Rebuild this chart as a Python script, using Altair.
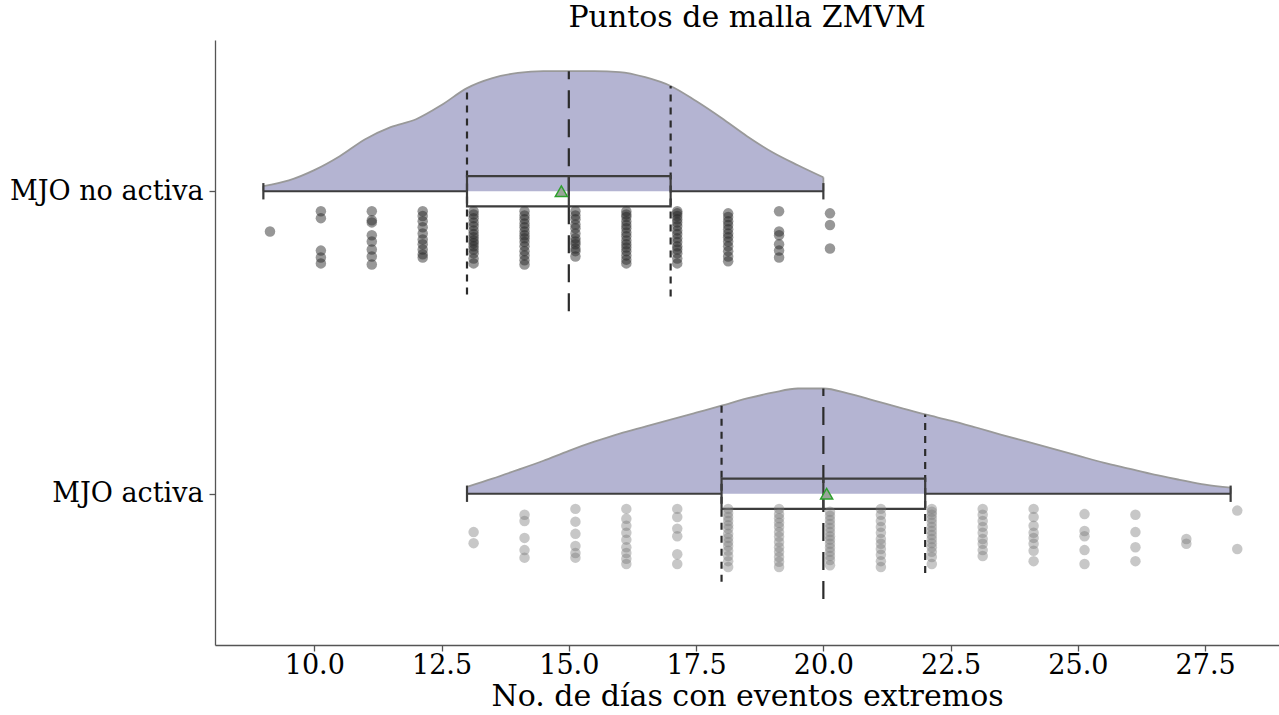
import altair as alt
import numpy as np
import pandas as pd

TITLE = "Puntos de malla ZMVM"
X_TITLE = "No. de días con eventos extremos"
GROUPS = ["MJO no activa", "MJO activa"]
GROUP_POS = {"MJO no activa": 1.0, "MJO activa": 0.0}
X_TICKS = [10.0, 12.5, 15.0, 17.5, 20.0, 22.5, 25.0, 27.5]

# Observed day counts: one list per distinct value, each entry is the
# vertical jitter (0-1 within the strip) of one observation.
no_activa_values = [9, 10, 11, 12, 13, 14, 15, 16, 17, 18, 19, 20]
no_activa_jitter = [
    [0.38],
    [0.0, 0.13, 0.74, 0.87, 0.98],
    [0.0, 0.17, 0.21, 0.45, 0.57, 0.72, 0.85, 1.0],
    [0.0, 0.09, 0.19, 0.30, 0.42, 0.53, 0.62, 0.72, 0.81, 0.87],
    [0.0, 0.06, 0.13, 0.21, 0.28, 0.36, 0.43, 0.49, 0.55, 0.60, 0.66, 0.72, 0.79, 0.89, 0.98],
    [0.0, 0.08, 0.15, 0.23, 0.30, 0.38, 0.45, 0.51, 0.58, 0.66, 0.75, 0.83, 0.92, 1.0],
    [0.0, 0.08, 0.15, 0.25, 0.32, 0.42, 0.51, 0.57, 0.62, 0.70, 0.75, 0.85],
    [0.0, 0.06, 0.11, 0.19, 0.26, 0.32, 0.40, 0.47, 0.55, 0.62, 0.68, 0.75, 0.83, 0.91, 0.98],
    [0.0, 0.04, 0.09, 0.15, 0.21, 0.28, 0.36, 0.43, 0.51, 0.58, 0.66, 0.72, 0.79, 0.89, 0.98],
    [0.04, 0.11, 0.19, 0.26, 0.34, 0.42, 0.49, 0.57, 0.66, 0.75, 0.85, 0.94],
    [0.0, 0.38, 0.45, 0.62, 0.74, 0.87],
    [0.04, 0.26, 0.70],
]

activa_values = [13, 14, 15, 16, 17, 18, 19, 20, 21, 22, 23, 24, 25, 26, 27, 28]
activa_jitter = [
    [0.40, 0.59],
    [0.10, 0.21, 0.50, 0.71, 0.84],
    [0.0, 0.22, 0.43, 0.64, 0.76, 0.84],
    [0.0, 0.17, 0.29, 0.41, 0.53, 0.66, 0.76, 0.86, 0.95],
    [0.0, 0.14, 0.34, 0.47, 0.78, 0.95],
    [0.0, 0.07, 0.14, 0.21, 0.28, 0.34, 0.43, 0.50, 0.57, 0.64, 0.72, 0.81, 0.90, 1.0],
    [0.0, 0.09, 0.16, 0.24, 0.31, 0.40, 0.48, 0.57, 0.66, 0.74, 0.83, 0.91, 1.0],
    [0.05, 0.12, 0.19, 0.26, 0.33, 0.40, 0.47, 0.53, 0.60, 0.67, 0.74, 0.81, 0.88, 0.97],
    [0.0, 0.10, 0.21, 0.31, 0.41, 0.52, 0.60, 0.69, 0.79, 0.90, 1.0],
    [0.0, 0.05, 0.10, 0.17, 0.24, 0.31, 0.38, 0.45, 0.52, 0.59, 0.66, 0.74, 0.83, 0.95],
    [0.0, 0.10, 0.21, 0.31, 0.41, 0.52, 0.60, 0.71, 0.81],
    [0.0, 0.14, 0.29, 0.41, 0.50, 0.60, 0.72, 0.90],
    [0.09, 0.38, 0.47, 0.71, 0.95],
    [0.10, 0.40, 0.66, 0.90],
    [0.52, 0.60],
    [0.03, 0.69],
]

# Half-violin outlines (kernel density, scaled to category units)
no_activa_grid = [9, 9.5, 10, 10.5, 11, 11.5, 12, 12.5, 13, 13.5, 14, 14.5,
                  15, 15.5, 16, 16.5, 17, 17.5, 18, 18.5, 19, 19.5, 20]
no_activa_density = [0.017, 0.036, 0.070, 0.116, 0.172, 0.212, 0.238, 0.285,
                     0.341, 0.374, 0.391, 0.397, 0.397, 0.397, 0.394, 0.377,
                     0.348, 0.298, 0.242, 0.182, 0.129, 0.086, 0.046]
activa_grid = [13, 13.5, 14, 14.5, 15, 15.5, 16, 16.5, 17, 17.5, 18, 18.5, 19,
               19.5, 20, 20.5, 21, 21.5, 22, 22.5, 23, 23.5, 24, 24.5, 25,
               25.5, 26, 26.5, 27, 27.5, 28]
activa_density = [0.023, 0.050, 0.079, 0.109, 0.142, 0.172, 0.199, 0.222,
                  0.245, 0.268, 0.291, 0.315, 0.334, 0.348, 0.348, 0.331,
                  0.308, 0.285, 0.262, 0.242, 0.219, 0.195, 0.172, 0.149,
                  0.126, 0.103, 0.083, 0.063, 0.046, 0.030, 0.020]

# ---- drawing constants -------------------------------------------------
VIOLIN_FILL = "#b4b4d2"
VIOLIN_EDGE = "#999999"
BOX_COLOR = "#3d3d3d"
POINT_COLOR = {"MJO no activa": "#262626", "MJO activa": "#7a7a7a"}
POINT_OPACITY = {"MJO no activa": 0.48, "MJO activa": 0.42}
STRIP_TOP = {"MJO no activa": 0.066, "MJO activa": 0.050}   # below the centre line
STRIP_SPAN = {"MJO no activa": 0.176, "MJO activa": 0.192}
STRIP_SHIFT = 0.13          # strip drawn slightly right of the values
BOX_HALF = 0.05
CAP_HALF = 0.027
SERIF = "DejaVu Serif"
AXIS_GREY = "#555555"

# ---- tables -------------------------------------------------------------
raw = {
    "MJO no activa": (no_activa_values, no_activa_jitter),
    "MJO activa": (activa_values, activa_jitter),
}
dens = {
    "MJO no activa": (no_activa_grid, no_activa_density),
    "MJO activa": (activa_grid, activa_density),
}

pts_rows, violin_rows, stat_rows, seg_rows, dash_rows, edge_rows = [], [], [], [], [], []
for g in GROUPS:
    c = GROUP_POS[g]
    vals, jit = raw[g]
    obs = []
    for v, js in zip(vals, jit):
        for j in js:
            obs.append(v)
            pts_rows.append({"group": g, "x": v + STRIP_SHIFT,
                             "y": c - STRIP_TOP[g] - STRIP_SPAN[g] * j})
    obs = np.array(obs, dtype=float)
    q1, med, q3 = np.percentile(obs, [25, 50, 75])
    iqr = q3 - q1
    lo = obs[obs >= q1 - 1.5 * iqr].min()
    hi = obs[obs <= q3 + 1.5 * iqr].max()
    stat_rows.append({"group": g, "q1": q1, "q3": q3, "mean": obs.mean(), "y": c,
                      "ylo": c - BOX_HALF, "yhi": c + BOX_HALF})
    # whiskers, caps and median
    seg_rows += [
        {"x": lo, "x2": q1, "y": c, "y2": c},
        {"x": q3, "x2": hi, "y": c, "y2": c},
        {"x": lo, "x2": lo, "y": c - CAP_HALF, "y2": c + CAP_HALF},
        {"x": hi, "x2": hi, "y": c - CAP_HALF, "y2": c + CAP_HALF},
        {"x": med, "x2": med, "y": c - BOX_HALF, "y2": c + BOX_HALF},
    ]
    gx, gd = dens[g]
    for x, d in zip(gx, gd):
        violin_rows.append({"group": g, "x": x, "base": c, "top": c + d})
    for kind, q in (("quart", q1), ("median", med), ("quart", q3)):
        h = float(np.interp(q, gx, gd))
        dash_rows.append({"group": g, "kind": kind, "x": q, "y": c - h, "y2": c + h})
    for x, d in ((gx[0], gd[0]), (gx[-1], gd[-1])):
        edge_rows.append({"x": x, "y": c, "y2": c + d})

pts = pd.DataFrame(pts_rows)
violin = pd.DataFrame(violin_rows)
stats = pd.DataFrame(stat_rows)
segs = pd.DataFrame(seg_rows)
dashes = pd.DataFrame(dash_rows)
edges = pd.DataFrame(edge_rows)

label_expr = "datum.value == 1 ? 'MJO no activa' : (datum.value == 0 ? 'MJO activa' : '')"
x_scale = alt.Scale(domain=[8.05, 28.95], nice=False, zero=False)
y_scale = alt.Scale(domain=[-0.5, 1.5], nice=False, zero=False)
x_axis = alt.Axis(
    values=X_TICKS, format=".1f", title=X_TITLE, grid=False,
    labelFont=SERIF, labelFontSize=27, labelColor="black", labelPadding=1,
    labelFlush=False, labelOverlap=False,
    titleFont=SERIF, titleFontSize=30, titleFontWeight="normal",
    titleColor="black", titlePadding=3,
    domainColor=AXIS_GREY, domainWidth=1.3, tickColor=AXIS_GREY,
    tickWidth=1.3, tickSize=6,
)
y_axis = alt.Axis(
    values=[0, 1], labelExpr=label_expr, title="", grid=False,
    labelFont=SERIF, labelFontSize=27, labelColor="black", labelPadding=6,
    labelLimit=400, labelOverlap=False,
    domainColor=AXIS_GREY, domainWidth=1.3, tickColor=AXIS_GREY,
    tickWidth=1.3, tickSize=6,
)


def X(field):
    return alt.X(f"{field}:Q", scale=x_scale, axis=x_axis, title=X_TITLE)


def Y(field):
    return alt.Y(f"{field}:Q", scale=y_scale, axis=y_axis, title="")


area = alt.Chart(violin).mark_area(
    color=VIOLIN_FILL, opacity=1, interpolate="monotone", orient="vertical"
).encode(x=X("x"), y=Y("top"), y2="base", detail="group:N")

outline = alt.Chart(violin).mark_line(
    color=VIOLIN_EDGE, strokeWidth=1.8, interpolate="monotone"
).encode(x=X("x"), y=Y("top"), detail="group:N")

ends = alt.Chart(edges).mark_rule(color=VIOLIN_EDGE, strokeWidth=1.8).encode(
    x=X("x"), y=Y("y"), y2="y2")

quart = alt.Chart(dashes).transform_filter("datum.kind == 'quart'").mark_rule(
    color="#2b2b2b", strokeWidth=2.2, strokeDash=[7, 6]
).encode(x=X("x"), y=Y("y"), y2="y2")

median = alt.Chart(dashes).transform_filter("datum.kind == 'median'").mark_rule(
    color="#2b2b2b", strokeWidth=2.2, strokeDash=[18, 11]
).encode(x=X("x"), y=Y("y"), y2="y2")

box = alt.Chart(stats).mark_rect(
    fillOpacity=0, stroke=BOX_COLOR, strokeWidth=2.2
).encode(x=X("q1"), x2="q3", y=Y("ylo"), y2="yhi")

lines = alt.Chart(segs).mark_rule(color=BOX_COLOR, strokeWidth=2.2).encode(
    x=X("x"), x2="x2", y=Y("y"), y2="y2")

points = alt.Chart(pts).mark_circle(size=110, strokeWidth=0).encode(
    x=X("x"), y=Y("y"),
    color=alt.Color("group:N", scale=alt.Scale(domain=GROUPS,
                    range=[POINT_COLOR[g] for g in GROUPS]), legend=None),
    opacity=alt.Opacity("group:N", scale=alt.Scale(domain=GROUPS,
                        range=[POINT_OPACITY[g] for g in GROUPS]), legend=None),
)

means = alt.Chart(stats).mark_point(
    shape="triangle-up", size=150, filled=True, fill="#9aa49a",
    stroke="#2ca02c", strokeWidth=1.4, opacity=1
).encode(x=X("mean"), y=Y("y"))

chart = alt.layer(area, outline, ends, quart, median, box, lines, points, means).properties(
    width=1064, height=605,
    title=alt.TitleParams(TITLE, font=SERIF, fontSize=30, fontWeight="normal",
                          color="black", anchor="middle", offset=7),
    autosize=alt.AutoSizeParams(type="none"),
    padding={"left": 215, "top": 40, "right": 0, "bottom": 70},
).configure_view(stroke="transparent")

chart.save("out.html", embed_options={"renderer": "svg", "actions": False})
